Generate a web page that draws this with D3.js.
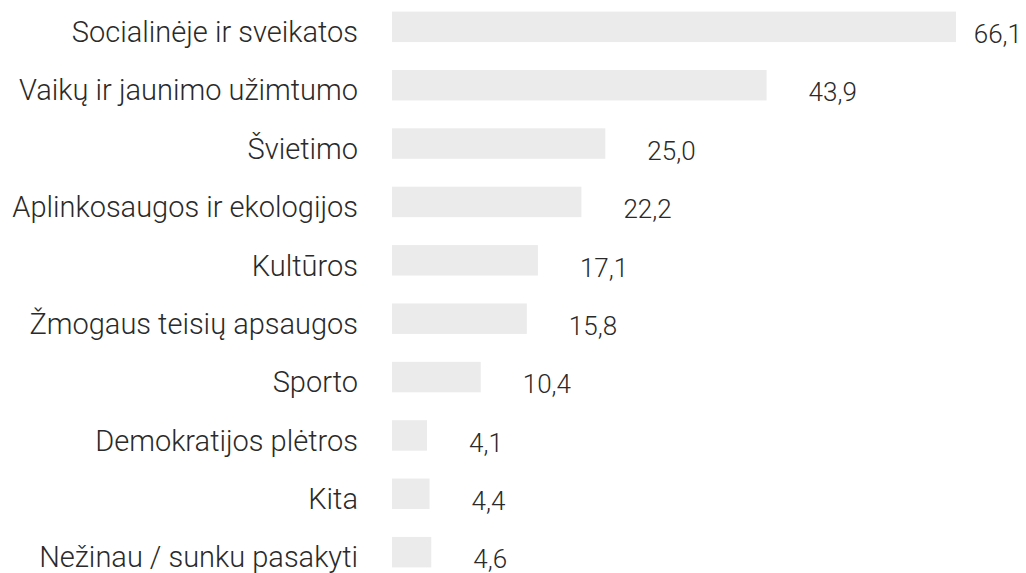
<!DOCTYPE html>
<html>
<head>
<meta charset="utf-8">
<script src="https://cdn.jsdelivr.net/npm/d3@7"></script>
<style>
  html, body { margin: 0; padding: 0; background: #ffffff; }
  svg { display: block; }
  text { font-family: Roboto, "Noto Sans", sans-serif; fill: #2a2a2a; }
</style>
</head>
<body>
<svg id="chart" width="1026" height="573"></svg>
<script>
const categories = [
  "Socialinėje ir sveikatos",
  "Vaikų ir jaunimo užimtumo",
  "Švietimo",
  "Aplinkosaugos ir ekologijos",
  "Kultūros",
  "Žmogaus teisių apsaugos",
  "Sporto",
  "Demokratijos plėtros",
  "Kita",
  "Nežinau / sunku pasakyti"
];
const values = [66.1, 43.9, 25.0, 22.2, 17.1, 15.8, 10.4, 4.1, 4.4, 4.6];
const valueLabels = ["66,1", "43,9", "25,0", "22,2", "17,1", "15,8", "10,4", "4,1", "4,4", "4,6"];

const W = 1026, H = 573;
const svg = d3.select("#chart");

const x = d3.scaleLinear().domain([0, 66.1]).range([392, 956]);
const y = d3.scaleBand().domain(categories).range([-3, 582]).paddingInner(0.478).paddingOuter(0.25);

const rows = categories.map((c, i) => ({ c, v: values[i], lab: valueLabels[i] }));

svg.selectAll("rect.bar").data(rows).join("rect")
  .attr("class", "bar")
  .attr("x", x(0))
  .attr("y", d => y(d.c))
  .attr("width", d => x(d.v) - x(0))
  .attr("height", y.bandwidth())
  .attr("fill", "#ebebeb");

svg.selectAll("text.cat").data(rows).join("text")
  .attr("class", "cat")
  .attr("x", 358)
  .attr("y", d => y(d.c) + y.bandwidth())
  .attr("text-anchor", "end")
  .attr("font-size", 29)
  .attr("font-weight", 300)
  .text(d => d.c);

const vals = svg.selectAll("text.val").data(rows).join("text")
  .attr("class", "val")
  .attr("y", d => y(d.c) + y.bandwidth() + 1)
  .attr("font-size", 26)
  .attr("font-weight", 300)
  .text(d => d.lab);

vals.attr("x", function(d) {
  const w = this.getComputedTextLength();
  return Math.min(x(d.v) + 42, W - 4 - w);
});
</script>
</body>
</html>
